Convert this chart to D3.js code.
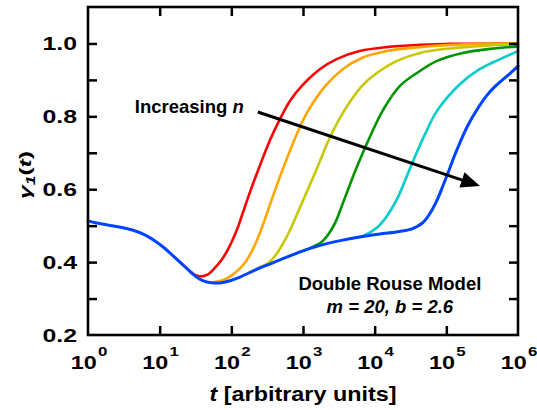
<!DOCTYPE html>
<html>
<head>
<meta charset="utf-8">
<script src="https://cdn.jsdelivr.net/npm/d3@7"></script>
<style>
  html, body { margin: 0; padding: 0; background: #fff; }
  svg { display: block; }
  text { font-family: "Liberation Sans", Arial, Helvetica, sans-serif; font-weight: bold; fill: #000; }
</style>
</head>
<body>
<svg id="chart" width="537" height="410"></svg>
<script>
// Relaxation function gamma_1(t) for the double Rouse model, one curve per n.
// Each point is [log10 t, gamma].
const curveN1 = [[1.25,0.406],[1.37,0.384],[1.47,0.368],[1.56,0.361],[1.66,0.365],[1.76,0.382],[1.86,0.405],[1.94,0.430],[2.02,0.462],[2.10,0.500],[2.16,0.535],[2.26,0.592],[2.36,0.645],[2.54,0.735],[2.68,0.793],[2.82,0.843],[2.99,0.885],[3.24,0.930],[3.47,0.957],[3.79,0.979],[4.17,0.990],[4.63,0.996],[5.09,0.999],[6.00,1.000]];
const curveN2 = [[1.70,0.344],[1.88,0.350],[2.00,0.363],[2.12,0.383],[2.21,0.404],[2.30,0.435],[2.37,0.466],[2.44,0.502],[2.57,0.575],[2.71,0.651],[2.96,0.772],[3.07,0.815],[3.31,0.883],[3.56,0.930],[3.82,0.960],[4.17,0.979],[4.63,0.990],[5.09,0.996],[5.57,0.999],[6.00,1.000]];
const curveN3 = [[2.25,0.372],[2.40,0.386],[2.52,0.398],[2.64,0.425],[2.73,0.454],[2.82,0.488],[2.96,0.551],[3.10,0.614],[3.19,0.655],[3.38,0.744],[3.58,0.817],[3.82,0.883],[4.03,0.919],[4.31,0.952],[4.63,0.974],[5.09,0.987],[5.57,0.994],[6.00,0.998]];
const curveN4 = [[2.90,0.424],[3.05,0.435],[3.24,0.452],[3.33,0.470],[3.42,0.497],[3.48,0.522],[3.53,0.548],[3.65,0.610],[3.75,0.660],[3.86,0.711],[4.11,0.815],[4.35,0.883],[4.59,0.919],[4.87,0.952],[5.23,0.974],[5.61,0.985],[6.00,0.992]];
const curveN5 = [[3.70,0.466],[3.84,0.472],[4.03,0.494],[4.17,0.526],[4.31,0.572],[4.42,0.622],[4.52,0.670],[4.70,0.750],[4.87,0.815],[5.20,0.890],[5.47,0.930],[5.75,0.957],[6.00,0.979]];
const curveN6 = [[0.00,0.513],[0.10,0.508],[0.42,0.497],[0.62,0.488],[0.80,0.474],[0.95,0.456],[1.07,0.438],[1.20,0.415],[1.35,0.388],[1.49,0.363],[1.60,0.349],[1.73,0.343],[1.84,0.343],[1.98,0.349],[2.12,0.359],[2.40,0.384],[2.68,0.406],[2.96,0.428],[3.24,0.446],[3.52,0.459],[3.79,0.469],[4.07,0.477],[4.35,0.484],[4.53,0.492],[4.67,0.508],[4.77,0.533],[4.87,0.570],[4.95,0.608],[5.02,0.643],[5.10,0.685],[5.19,0.728],[5.30,0.775],[5.44,0.822],[5.56,0.856],[5.67,0.880],[5.89,0.918],[6.00,0.938]];

const curveColors = ["#ff0000", "#ffa500", "#c8c800", "#009400", "#00cccc", "#0044ff"];

const xDecades = [0, 1, 2, 3, 4, 5, 6];
const yLabelTicks = [0.2, 0.4, 0.6, 0.8, 1.0];
const yAllTicks = [0.3, 0.4, 0.5, 0.6, 0.7, 0.8, 0.9, 1.0];

(function draw() {
  const svg = d3.select("#chart");
  const pL = 88, pR = 518, pT = 7, pB = 335;

  const x = d3.scaleLog().domain([1, 1e6]).range([pL, pR]);
  const y = d3.scaleLinear().domain([0.2, 1.1]).range([pB, pT]);

  // curves: blue drawn last so it sits on top of the shared early part
  const line = d3.line()
    .x(d => x(Math.pow(10, d[0])))
    .y(d => y(d[1]))
    .curve(d3.curveCatmullRom.alpha(0.5));

  const curves = [curveN1, curveN2, curveN3, curveN4, curveN5, curveN6];
  const plot = svg.append("g");
  curves.forEach((pts, i) => {
    plot.append("path")
      .attr("d", line(pts))
      .attr("fill", "none")
      .attr("stroke", curveColors[i])
      .attr("stroke-width", i === 5 ? 3 : 2.6)
      .attr("stroke-linejoin", "round")
      .attr("stroke-linecap", "round");
  });

  // axes with inward ticks on all four sides
  const tickLen = 9;
  const xTickVals = xDecades.slice(1, -1).map(k => Math.pow(10, k));
  svg.append("g").attr("transform", `translate(0,${pB})`)
    .call(d3.axisBottom(x).tickValues(xTickVals).tickSizeInner(-tickLen).tickSizeOuter(0).tickFormat(""));
  svg.append("g").attr("transform", `translate(0,${pT})`)
    .call(d3.axisTop(x).tickValues(xTickVals).tickSizeInner(-tickLen).tickSizeOuter(0).tickFormat(""));
  svg.append("g").attr("transform", `translate(${pL},0)`)
    .call(d3.axisLeft(y).tickValues(yAllTicks).tickSizeInner(-tickLen).tickSizeOuter(0).tickFormat(""));
  svg.append("g").attr("transform", `translate(${pR},0)`)
    .call(d3.axisRight(y).tickValues(yAllTicks).tickSizeInner(-tickLen).tickSizeOuter(0).tickFormat(""));
  svg.selectAll(".domain").remove();
  svg.selectAll(".tick line").attr("stroke", "#000").attr("stroke-width", 2.5);

  // frame
  svg.append("rect")
    .attr("x", pL).attr("y", pT)
    .attr("width", pR - pL).attr("height", pB - pT)
    .attr("fill", "none").attr("stroke", "#000").attr("stroke-width", 2.6);

  // y tick labels
  svg.append("g").selectAll("text").data(yLabelTicks).join("text")
    .attr("transform", d => `translate(${pL - 11},${y(d) + 6.5}) scale(1.38,1)`)
    .attr("text-anchor", "end")
    .attr("font-size", 18)
    .text(d => d.toFixed(1));

  // x tick labels 10^k
  const xl = svg.append("g").selectAll("text").data(xDecades).join("text")
    .attr("transform", d => `translate(${x(Math.pow(10, d)) + 1},369) scale(1.3,1)`)
    .attr("text-anchor", "middle")
    .attr("font-size", 18);
  xl.append("tspan").text("10");
  xl.append("tspan").attr("font-size", 13).attr("dy", -13).attr("dx", 1).text(d => d);

  // axis titles
  const xt = svg.append("text")
    .attr("transform", `translate(${(pL + pR) / 2},401) scale(1.2,1)`)
    .attr("text-anchor", "middle")
    .attr("font-size", 19.5);
  xt.append("tspan").attr("font-style", "italic").text("t");
  xt.append("tspan").text(" [arbitrary units]");

  const yt = svg.append("text")
    .attr("transform", `translate(31,175) rotate(-90) scale(1.45,1)`)
    .attr("text-anchor", "middle")
    .attr("font-size", 17);
  yt.append("tspan").attr("font-style", "italic").text("γ");
  yt.append("tspan").attr("font-style", "italic").attr("font-size", 12).attr("dy", 4).text("1");
  yt.append("tspan").attr("dy", -4).text("(");
  yt.append("tspan").attr("font-style", "italic").text("t");
  yt.append("tspan").text(")");

  // "Increasing n" arrow
  const arrowFrom = [234, 0.812];
  const arrowTo = [295000, 0.609];
  const x0 = x(arrowFrom[0]), y0 = y(arrowFrom[1]);
  const x1 = x(arrowTo[0]), y1 = y(arrowTo[1]);
  const len = Math.hypot(x1 - x0, y1 - y0);
  const ux = (x1 - x0) / len, uy = (y1 - y0) / len;
  const headLen = 19, headHalf = 8;
  const bx = x1 - ux * headLen, by = y1 - uy * headLen;
  svg.append("line")
    .attr("x1", x0).attr("y1", y0).attr("x2", bx + ux * 2).attr("y2", by + uy * 2)
    .attr("stroke", "#000").attr("stroke-width", 3);
  svg.append("path")
    .attr("d", `M${x1},${y1}L${bx - uy * headHalf},${by + ux * headHalf}L${bx + uy * headHalf},${by - ux * headHalf}Z`)
    .attr("fill", "#000");

  const incText = svg.append("text")
    .attr("x", x(4.5)).attr("y", y(0.809))
    .attr("font-size", 18.5);
  incText.append("tspan").text("Increasing ");
  incText.append("tspan").attr("font-style", "italic").text("n");

  // model annotation
  const modelAt = 16300;
  svg.append("text")
    .attr("x", x(modelAt)).attr("y", y(0.323))
    .attr("text-anchor", "middle")
    .attr("font-size", 18.5)
    .text("Double Rouse Model");
  svg.append("text")
    .attr("x", x(modelAt)).attr("y", y(0.260))
    .attr("text-anchor", "middle")
    .attr("font-size", 18.5)
    .attr("font-style", "italic")
    .text("m = 20, b = 2.6");
})();
</script>
</body>
</html>
